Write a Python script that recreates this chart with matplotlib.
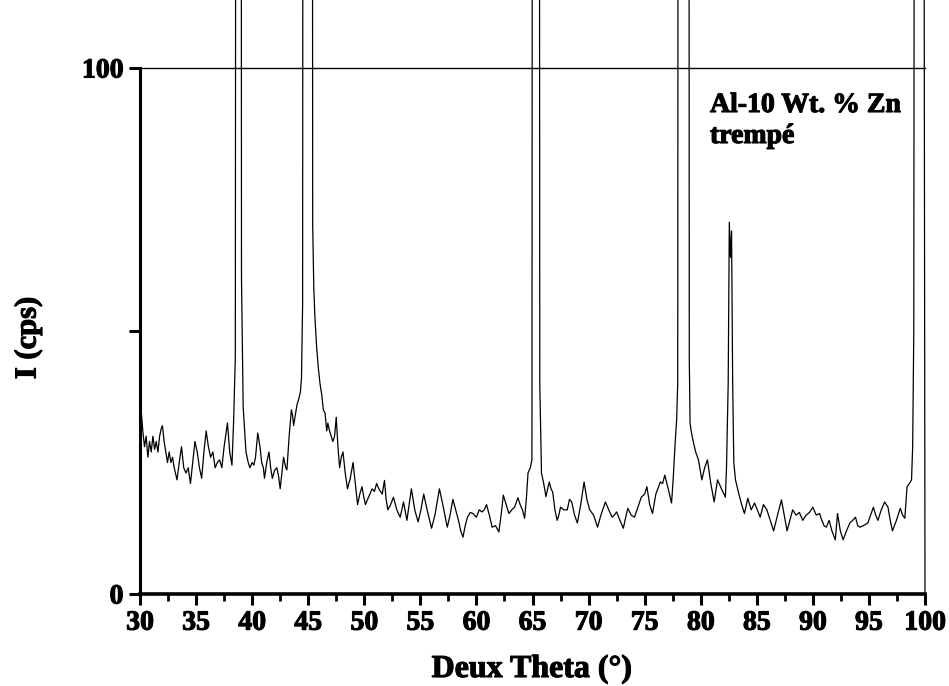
import matplotlib
matplotlib.use("Agg")
import matplotlib.pyplot as plt
import matplotlib.patheffects as pe

plt.rcParams['font.family'] = ['Liberation Serif', 'DejaVu Serif']
plt.rcParams['font.weight'] = 'bold'

# --- data ---
two_theta = [
    30.0, 30.1, 30.25, 30.4, 30.55, 30.7, 30.85, 31.0, 31.15, 31.3, 31.45, 31.6, 31.75, 31.9, 32.0,
    32.15, 32.3, 32.45, 32.6, 32.75, 32.9, 33.05, 33.3, 33.5, 33.7, 33.9, 34.1, 34.3, 34.5, 34.7,
    34.9, 35.1, 35.3, 35.5, 35.7, 35.9, 36.1, 36.3, 36.5, 36.7, 36.9, 37.1, 37.3, 37.5, 37.8,
    38.0, 38.2, 38.35, 38.5, 38.62, 38.98, 39.05, 39.2, 39.45, 39.65, 39.8, 40.0, 40.15, 40.3, 40.5,
    40.7, 40.85, 41.0, 41.1, 41.3, 41.5, 41.65, 41.8, 42.0, 42.2, 42.35, 42.5, 42.65, 42.8, 43.0,
    43.1, 43.3, 43.5, 43.6, 43.7, 43.85, 44.0, 44.15, 44.3, 44.4, 44.5, 44.6, 45.3, 45.4, 45.5,
    45.6, 45.75, 45.9, 46.05, 46.2, 46.35, 46.5, 46.65, 46.75, 46.9, 47.05, 47.2, 47.35, 47.5, 47.65,
    47.8, 47.95, 48.1, 48.3, 48.5, 48.75, 49.0, 49.2, 49.4, 49.6, 49.8, 49.95, 50.1, 50.3, 50.5,
    50.7, 50.9, 51.1, 51.3, 51.45, 51.6, 51.8, 51.95, 52.1, 52.35, 52.6, 52.9, 53.2, 53.5, 53.8,
    54.0, 54.2, 54.5, 54.8, 55.05, 55.3, 55.6, 56.0, 56.3, 56.7, 57.0, 57.4, 57.65, 57.9, 58.15,
    58.4, 58.6, 58.8, 59.0, 59.2, 59.45, 59.7, 60.0, 60.25, 60.5, 60.7, 60.9, 61.15, 61.4, 61.7,
    62.0, 62.2, 62.4, 62.65, 62.9, 63.15, 63.4, 63.7, 63.9, 64.1, 64.3, 64.45, 64.6, 64.8, 64.95,
    65.05, 65.55, 65.65, 65.8, 66.0, 66.2, 66.35, 66.5, 66.65, 66.8, 67.0, 67.2, 67.35, 67.5, 67.8,
    68.1, 68.3, 68.5, 68.75, 69.0, 69.3, 69.6, 69.85, 70.1, 70.45, 70.8, 71.1, 71.5, 71.8, 72.1,
    72.3, 72.5, 72.8, 73.1, 73.3, 73.5, 73.8, 74.1, 74.4, 74.7, 75.0, 75.2, 75.45, 75.7, 76.0,
    76.4, 76.6, 76.8, 77.1, 77.4, 77.55, 77.7, 77.85, 77.95, 78.05, 78.9, 78.98, 79.05, 79.15, 79.3,
    79.55, 79.8, 80.1, 80.35, 80.6, 80.9, 81.2, 81.5, 81.85, 82.2, 82.3, 82.45, 82.55, 82.65, 82.75,
    82.85, 82.95, 83.1, 83.4, 83.65, 83.9, 84.2, 84.5, 84.8, 85.05, 85.3, 85.6, 85.9, 86.2, 86.5,
    86.85, 87.2, 87.45, 87.7, 87.95, 88.2, 88.5, 88.8, 89.1, 89.4, 89.7, 90.0, 90.3, 90.6, 90.8,
    91.0, 91.2, 91.45, 91.7, 92.0, 92.2, 92.45, 92.7, 93.0, 93.3, 93.55, 93.8, 94.0, 94.2, 94.5,
    94.9, 95.15, 95.4, 95.6, 95.8, 96.1, 96.4, 96.7, 96.9, 97.1, 97.45, 97.8, 98.0, 98.2, 98.4,
    98.6, 98.8, 98.9, 99.0, 99.15, 99.75, 100.0,
]
intensity = [
    40, 35, 31, 28, 30, 26, 29, 27, 30, 27.5, 29, 27, 30, 31.5, 32,
    29, 27, 25, 27, 25, 26, 24, 21.7, 25, 28, 24, 23, 24, 21, 25,
    29, 27, 24, 22, 27, 31, 28, 26, 27, 24, 25, 25.5, 24, 28, 32.5,
    27, 24.5, 33, 45, 400, 400, 60, 35.5, 27, 25, 24, 25, 24.5, 26, 30.6,
    28, 25, 24, 22, 25, 27, 24, 22, 23.5, 24, 22.5, 20, 23, 26, 24,
    23.6, 30, 35, 34, 32, 34, 36, 37, 38.4, 41, 55, 400, 400, 70, 58,
    52.5, 47, 43, 40, 38, 35, 34.4, 31, 32.5, 31, 30, 29, 30, 33.6, 28,
    24, 26, 27, 23, 20, 22, 25, 21, 17, 19, 20.4, 18.5, 17, 18, 19,
    20, 19.5, 21, 20, 19.5, 19, 21.6, 18, 16, 17, 18.4, 16, 14.6, 17.5, 14,
    17, 20, 16, 13.7, 16, 19, 16, 12.5, 15, 20, 17, 12.7, 15, 18, 16,
    14, 12, 10.8, 13, 14.6, 15.5, 15.3, 14.6, 16, 15.6, 16, 17, 15, 12.7, 13,
    11.8, 15, 18.8, 17, 15.3, 16, 16.5, 18.3, 17, 16, 14.4, 18, 23, 24, 25.5,
    400, 400, 40, 23, 21, 18.5, 20, 21.3, 20, 19.4, 16, 14, 15, 16.5, 16,
    16, 18, 17.5, 15, 13.5, 17, 21.3, 18, 16, 15, 12.7, 15, 17.5, 16, 14.6,
    15, 15.6, 14, 12.5, 14.5, 16.3, 15, 14.6, 16.5, 18.4, 19, 20.4, 17, 15.3, 19,
    21.3, 21, 22.6, 20, 17.3, 22, 28, 33, 40, 400, 400, 45, 32.5, 31, 29.3,
    27, 25.5, 21.7, 24, 25.5, 21, 17.5, 21.7, 20, 18.4, 24, 40, 70.7, 64, 69,
    40, 25, 21.7, 19, 17, 15.3, 18.2, 16, 17.3, 16, 14.6, 17, 16, 14, 12,
    15, 17.9, 15, 12, 14, 16, 15, 15.5, 14, 15, 15.5, 16.5, 15, 15.3, 14,
    13, 12.7, 14, 12, 10.3, 15.3, 12, 10.3, 12, 13.5, 14, 14.6, 13, 12.7, 13,
    13.5, 15, 16.5, 15, 14, 16, 17.5, 16.5, 14, 12, 14, 16.3, 15, 14.4, 20.4,
    21, 21.7, 28, 50, 400, 400, 0,
]

x_ticks = [30, 35, 40, 45, 50, 55, 60, 65, 70, 75, 80, 85, 90, 95, 100]
x_tick_labels = [str(v) for v in x_ticks]
y_ticks = [0, 50, 100]
y_tick_labels = ['0', '', '100']

W, H = 949, 686
fig = plt.figure(figsize=(W / 100, H / 100), dpi=100)
ax = fig.add_axes([140 / W, 1 - 594 / H, (925 - 140) / W, (594 - 68) / H])

ax.plot(two_theta, intensity, color='black', lw=0.9, clip_on=False, zorder=3)

ax.set_xlim(30, 100)
ax.set_ylim(0, 100)

ax.set_xticks(x_ticks)
ax.set_xticklabels(x_tick_labels)
ax.set_xticks([v + 2.5 for v in x_ticks[:-1]], minor=True)
ax.set_yticks(y_ticks)
ax.set_yticklabels(y_tick_labels)

ax.spines['right'].set_visible(False)
ax.spines['top'].set_linewidth(1.0)
ax.spines['left'].set_linewidth(2.2)
ax.spines['bottom'].set_linewidth(2.6)

ax.tick_params(axis='x', which='major', direction='out', length=8, width=2.2, pad=4, labelsize=20)
ax.tick_params(axis='x', which='minor', direction='out', length=5, width=2.0)
ax.tick_params(axis='y', which='major', direction='out', length=8, width=2.2, pad=4, labelsize=20)

stroke = [pe.withStroke(linewidth=0.8, foreground='black')]
for lab in ax.get_xticklabels() + ax.get_yticklabels():
    lab.set_fontweight('bold')
    lab.set_path_effects(stroke)

fig.text(532 / W, 1 - 677 / H, 'Deux Theta (°)', ha='center', va='baseline',
         fontsize=23, fontweight='bold', path_effects=stroke)
fig.text(28 / W, 1 - 338 / H, 'I (cps)', ha='center', va='center', rotation=90,
         fontsize=22, fontweight='bold', path_effects=stroke)

fig.text(710 / W, 1 - 112 / H, 'Al-10 Wt. % Zn', ha='left', va='baseline',
         fontsize=20, fontweight='bold', path_effects=stroke)
fig.text(710 / W, 1 - 143 / H, 'trempé', ha='left', va='baseline',
         fontsize=20, fontweight='bold', path_effects=stroke)

fig.savefig('out.png', dpi=100)
